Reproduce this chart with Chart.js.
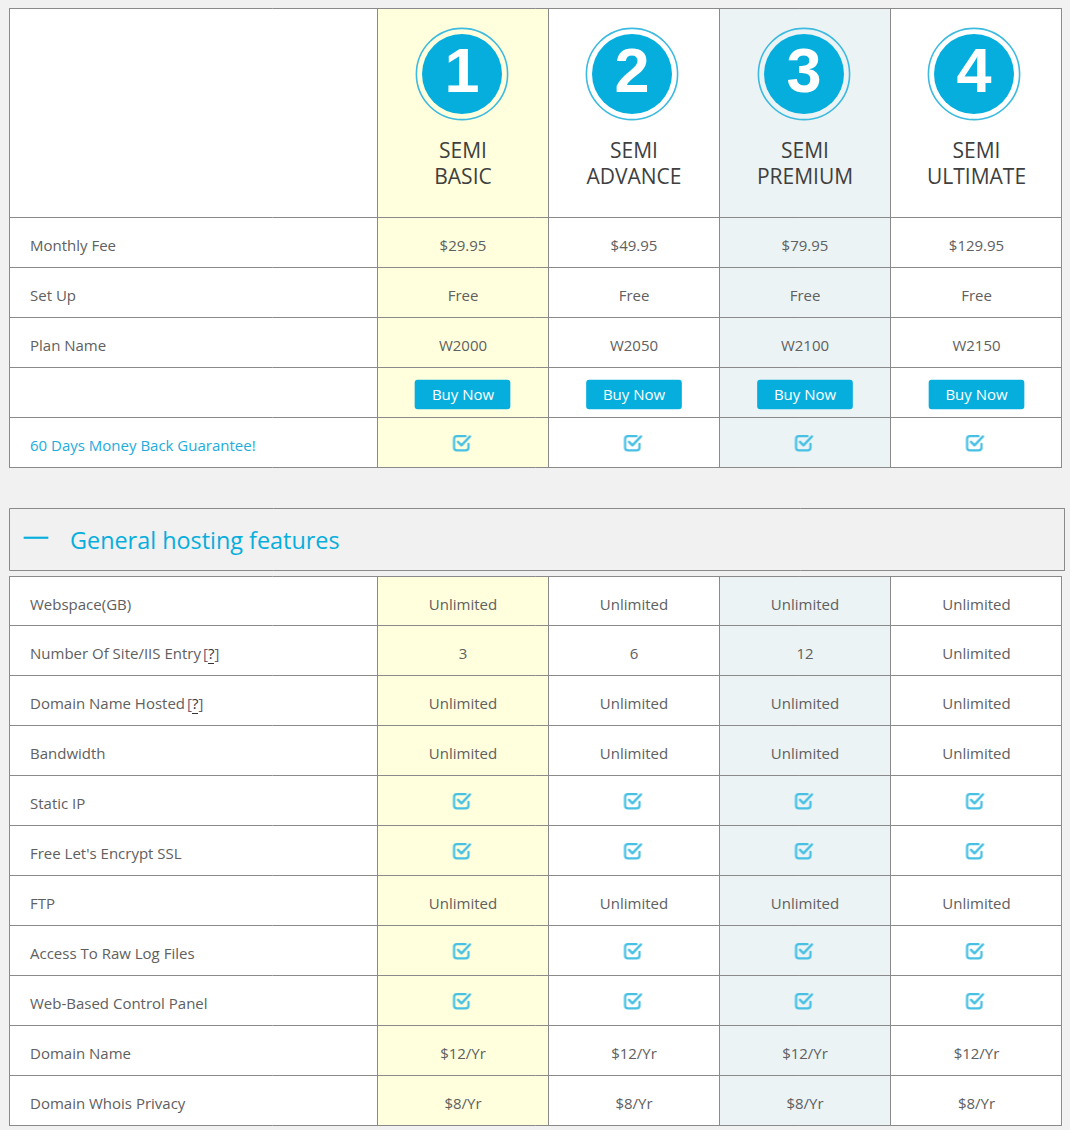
<!DOCTYPE html>
<html><head><meta charset="utf-8">
<style>html,body{margin:0;padding:0;background:#f1f1f1;overflow:hidden}canvas{display:block}</style>
<script src="https://cdn.jsdelivr.net/npm/chart.js@4"></script>
</head><body><canvas id="c" width="1070" height="1130"></canvas>
<script>
// ---------- data ----------
const CHECK = 'check';
const planNumbers = ['1','2','3','4'];
const planKinds = ['SEMI','SEMI','SEMI','SEMI'];
const planNames = ['BASIC','ADVANCE','PREMIUM','ULTIMATE'];
const overviewLabels = ['Monthly Fee','Set Up','Plan Name','','60 Days Money Back Guarantee!'];
const monthlyFee = ['$29.95','$49.95','$79.95','$129.95'];
const setUpFee = ['Free','Free','Free','Free'];
const planCodes = ['W2000','W2050','W2100','W2150'];
const buyButtons = ['Buy Now','Buy Now','Buy Now','Buy Now'];
const guarantee = [CHECK,CHECK,CHECK,CHECK];
const sectionTitle = 'General hosting features';
const featureLabels = ['Webspace(GB)','Number Of Site/IIS Entry','Domain Name Hosted','Bandwidth','Static IP',"Free Let's Encrypt SSL",'FTP','Access To Raw Log Files','Web-Based Control Panel','Domain Name','Domain Whois Privacy'];
const helpMarks = [false,true,true,false,false,false,false,false,false,false,false];
const webspace = ['Unlimited','Unlimited','Unlimited','Unlimited'];
const siteEntries = ['3','6','12','Unlimited'];
const domainsHosted = ['Unlimited','Unlimited','Unlimited','Unlimited'];
const bandwidth = ['Unlimited','Unlimited','Unlimited','Unlimited'];
const staticIp = [CHECK,CHECK,CHECK,CHECK];
const freeSsl = [CHECK,CHECK,CHECK,CHECK];
const ftp = ['Unlimited','Unlimited','Unlimited','Unlimited'];
const rawLogs = [CHECK,CHECK,CHECK,CHECK];
const controlPanel = [CHECK,CHECK,CHECK,CHECK];
const domainName = ['$12/Yr','$12/Yr','$12/Yr','$12/Yr'];
const whoisPrivacy = ['$8/Yr','$8/Yr','$8/Yr','$8/Yr'];
const overviewRows = [monthlyFee,setUpFee,planCodes,buyButtons,guarantee];
const featureRows = [webspace,siteEntries,domainsHosted,bandwidth,staticIp,freeSsl,ftp,rawLogs,controlPanel,domainName,whoisPrivacy];

// ---------- layout and style ----------
const L = {
  left:9.5, right:1061.5, colEdges:[377.5,548.5,719.5,890.5],
  colText:[463,634,805,976.5], badgeX:[462,632,804,974], iconX:[462.5,633.5,804.5,975.5], btnX:[462.5,634,805,976.5],
  top1:8.5, head:217.5, rowH:50, top2:576.5, row2Start:625.5,
  boxL:9.5, boxR:1064.5, boxT:508.5, boxB:570.5
};
const lastTop = L.head + L.rowH*overviewRows.length;
const lastBottom = L.top2 + 49 + 50*(featureRows.length-1);
const C = {bg:'#f1f1f1',line:'#8a8a8a',yellow:'#ffffdd',pale:'#ebf3f5',blue:'#06aedd',text:'#606060',head:'#3f3f3f',link:'#22acdc',help:'#333',bracket:'#6b5b70'};
const FONT = '"Open Sans"';

function checkIcon(){
  const k=document.createElement('canvas');k.width=22;k.height=20;
  const g=k.getContext('2d');g.strokeStyle='#48c0e4';g.lineWidth=2.3;g.lineCap='round';g.lineJoin='round';
  g.beginPath();g.moveTo(14,3.2);g.lineTo(5.4,3.2);g.quadraticCurveTo(2.6,3.2,2.6,6);g.lineTo(2.6,14.6);g.quadraticCurveTo(2.6,17.4,5.4,17.4);
  g.lineTo(14.2,17.4);g.quadraticCurveTo(17,17.4,17,14.6);g.lineTo(17,11);g.stroke();
  g.beginPath();g.moveTo(6.5,8.8);g.lineTo(10,12.3);g.lineTo(18.5,3.4);g.lineWidth=2.4;g.stroke();
  return k;
}
const columnBar=(x)=>[{x,y:[L.top1+.5,lastTop]},{x,y:[L.top2+.5,lastBottom]}];
const seg=(x1,y1,x2,y2)=>[{x:x1,y:y1},{x:x2,y:y2},{x:NaN,y:NaN}];
const hY=[L.top1,L.head,...overviewRows.map((_,i)=>L.head+L.rowH*(i+1)),L.top2,...featureRows.map((_,i)=>L.row2Start+50*i)];
const gridPts=[...hY.map(y=>seg(L.left,y,L.right,y)).flat(),
  ...[L.left,...L.colEdges,L.right].map(x=>[...seg(x,L.top1,x,lastTop),...seg(x,L.top2,x,lastBottom)]).flat()];
const boxPts=[{x:L.boxL,y:L.boxT},{x:L.boxR,y:L.boxT},{x:L.boxR,y:L.boxB},{x:L.boxL,y:L.boxB},{x:L.boxL,y:L.boxT}];
const iconPts=[];
overviewRows.forEach((r,i)=>r.forEach((v,c)=>{if(v===CHECK)iconPts.push({x:L.iconX[c],y:L.head+L.rowH*i+25.5});}));
featureRows.forEach((r,i)=>r.forEach((v,c)=>{if(v===CHECK)iconPts.push({x:L.iconX[c],y:L.row2Start+50*(i-1)+25.5});}));
const barBase={type:'bar',borderWidth:0,grouped:false,borderSkipped:false};

const textPlugin={id:'cellText',
 beforeDraw(ch){const g=ch.ctx;g.save();g.fillStyle=C.bg;g.fillRect(0,0,ch.width,ch.height);g.restore();},
 afterDatasetsDraw(ch){
  const g=ch.ctx,sx=ch.scales.x,sy=ch.scales.y;
  const put=(s,x,y,font,col,al='center')=>{g.font=font;g.fillStyle=col;g.textAlign=al;g.textBaseline='middle';g.fillText(s,sx.getPixelForValue(x),sy.getPixelForValue(y));};
  const body='15px '+FONT;
  g.save();
  planNumbers.forEach((n,c)=>{
    put(n,L.badgeX[c],75,'bold 63px "Liberation Sans"','#fff');
    put(planKinds[c],L.colText[c],152.5,'21px '+FONT,C.head);
    put(planNames[c],L.colText[c],178.5,'21px '+FONT,C.head);
  });
  overviewLabels.forEach((s,i)=>{if(s)put(s,30,L.head+L.rowH*i+29,body,i===4?C.link:C.text,'left');});
  overviewRows.forEach((r,i)=>r.forEach((v,c)=>{
    if(v===CHECK)return;
    if(r===buyButtons)put(v,L.colText[c],L.head+L.rowH*i+28.5,body,'#fff');
    else put(v,L.colText[c],L.head+L.rowH*i+29,body,C.text);
  }));
  put(sectionTitle,70,542.5,'23.4px '+FONT,C.blue,'left');
  featureRows.forEach((r,i)=>{
    const y=i===0?L.top2+29:L.row2Start+50*(i-1)+29;
    put(featureLabels[i],30,y,body,C.text,'left');
    if(helpMarks[i]){
      g.font=body;
      const hx=Math.round(30+g.measureText(featureLabels[i]).width+2);
      const bw=g.measureText('[').width,qw=g.measureText('?').width;
      put('[',hx,y,body,C.bracket,'left');
      put('?',hx+bw,y,body,C.help,'left');
      put(']',hx+bw+qw,y,body,C.bracket,'left');
      g.fillStyle=C.help;g.fillRect(Math.round(hx+bw),Math.round(y+8),Math.round(qw),1);
    }
    r.forEach((v,c)=>{if(v!==CHECK)put(v,L.colText[c],y,body,C.text);});
  });
  g.restore();
 }};

const cv=document.getElementById('c');
cv.getContext('2d',{alpha:false});
new Chart(cv,{
 type:'bar',
 plugins:[textPlugin],
 data:{datasets:[
  {...barBase,order:9,barThickness:1052,backgroundColor:'#fff',data:columnBar(536)},
  {...barBase,order:8,barThickness:170,backgroundColor:C.yellow,data:columnBar(463)},
  {...barBase,order:8,barThickness:170,backgroundColor:C.pale,data:columnBar(805)},
  {type:'line',order:7,data:gridPts,borderColor:C.line,borderWidth:1,pointRadius:0,spanGaps:false,borderCapStyle:'square',tension:0},
  {type:'line',order:7,data:boxPts,borderColor:C.line,borderWidth:1,pointRadius:0,tension:0},
  {...barBase,order:6,barThickness:95,backgroundColor:C.blue,borderRadius:3,data:L.btnX.map(x=>({x,y:[L.head+L.rowH*3+12.5,L.head+L.rowH*3+41.5]}))},
  {...barBase,order:6,barThickness:24,backgroundColor:C.blue,data:[{x:36,y:[537,538.5]}]},
  {type:'scatter',order:5,data:L.badgeX.map(x=>({x,y:74})),pointRadius:45.6,borderWidth:1.6,pointBorderColor:'#3cbae0',pointBackgroundColor:'rgba(0,0,0,0)'},
  {type:'scatter',order:4,data:L.badgeX.map(x=>({x,y:74})),pointRadius:40,borderWidth:0,pointBackgroundColor:C.blue},
  {type:'scatter',order:3,data:iconPts,pointStyle:checkIcon(),pointRadius:10}
 ]},
 options:{responsive:false,animation:false,devicePixelRatio:1,events:[],clip:false,
  layout:{padding:0,autoPadding:false},
  plugins:{legend:{display:false},tooltip:{enabled:false},title:{display:false}},
  scales:{x:{type:'linear',min:0,max:1070,display:false,offset:false},
          y:{type:'linear',min:0,max:1130,reverse:true,display:false}}}
});
</script></body></html>
